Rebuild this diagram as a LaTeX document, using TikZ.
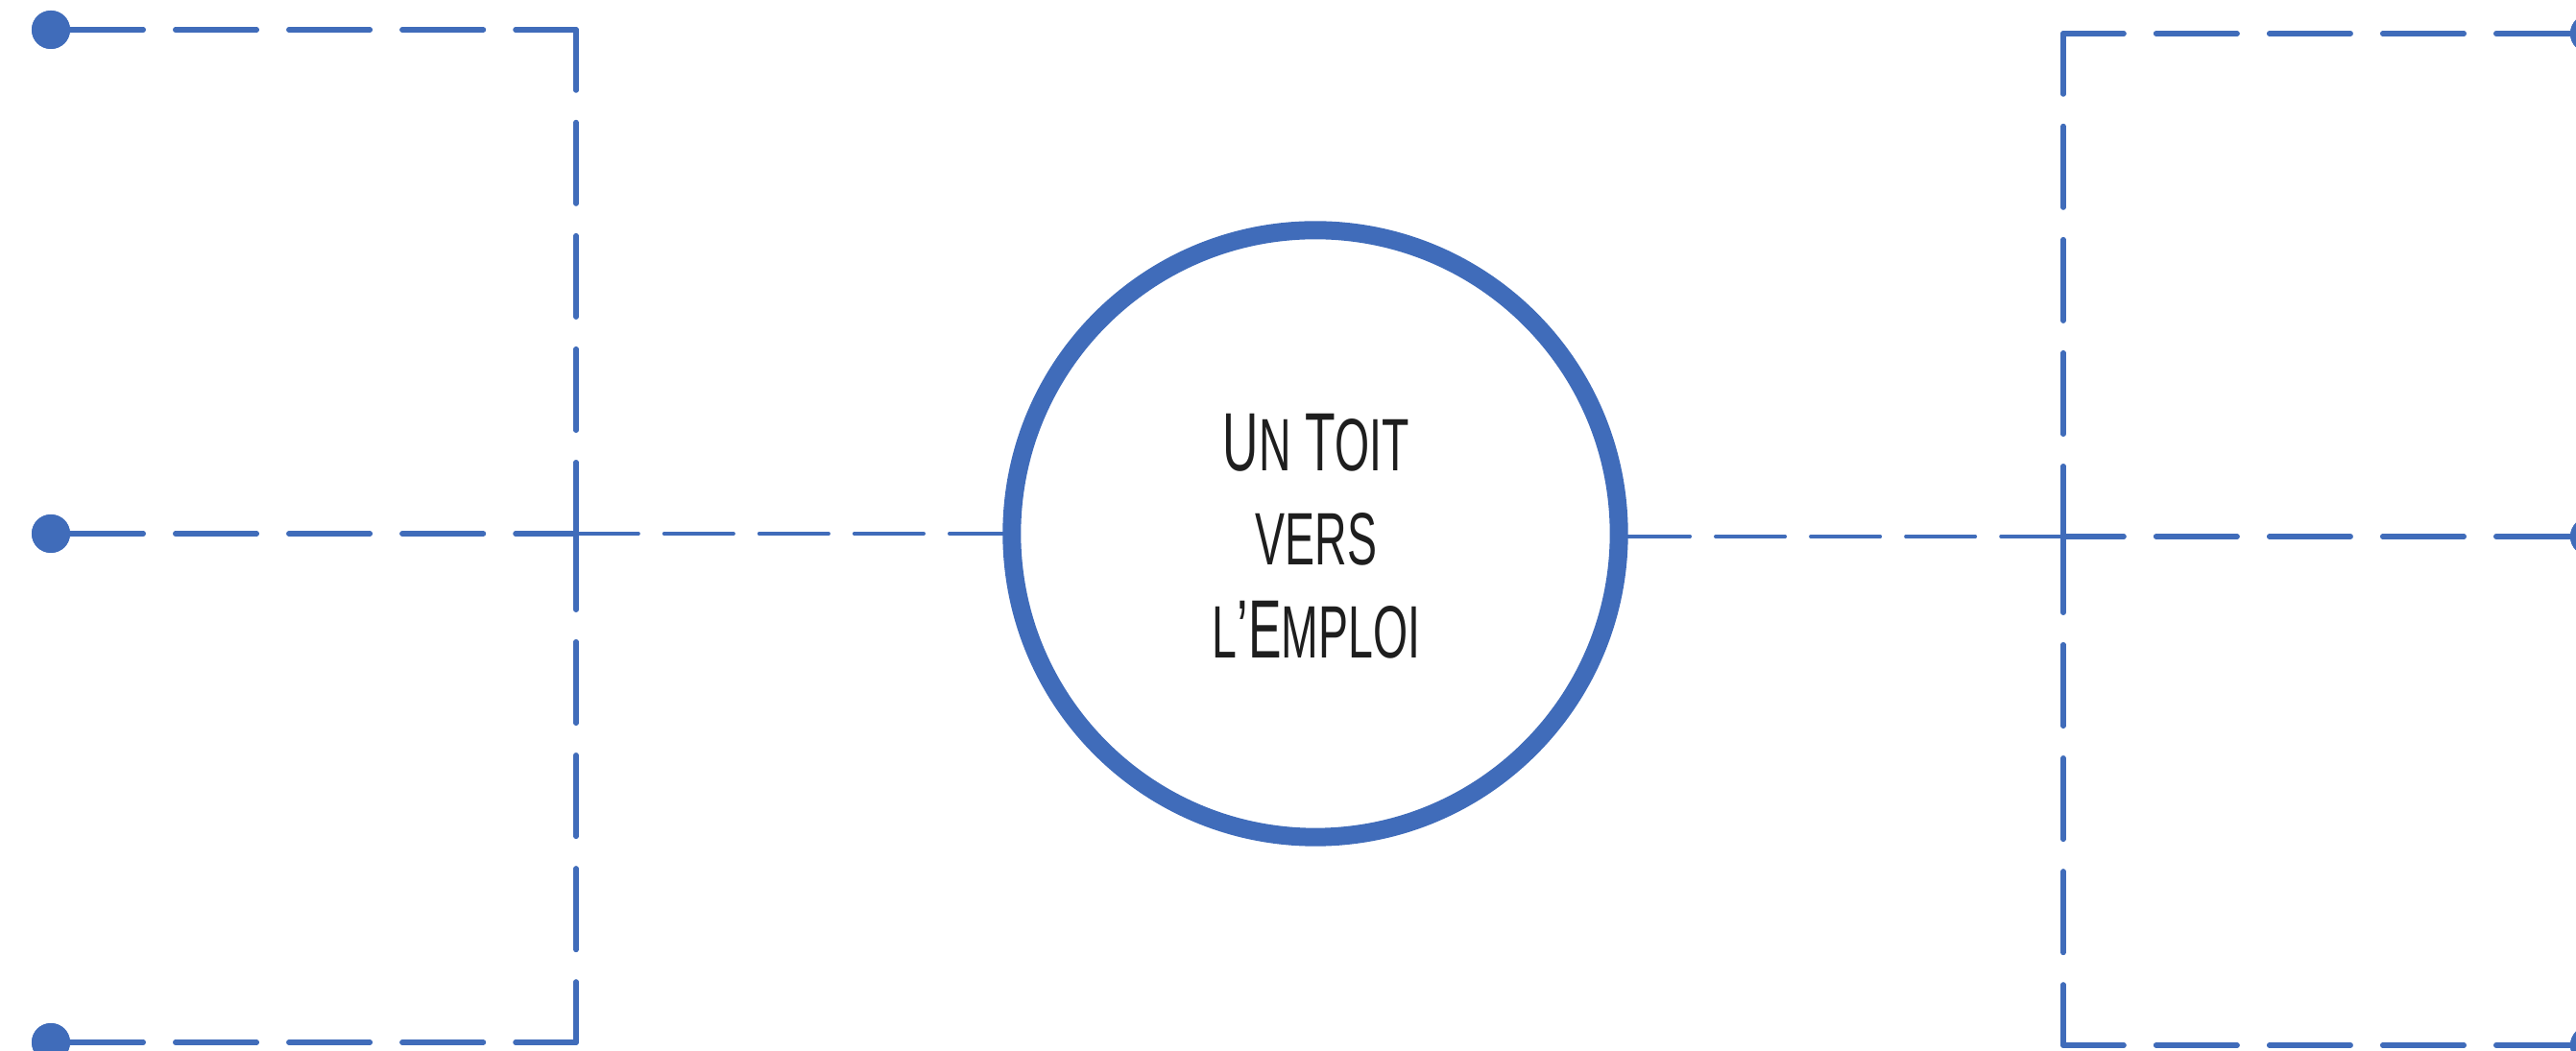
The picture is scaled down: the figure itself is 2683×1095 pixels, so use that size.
\documentclass[tikz,border=0pt]{standalone}
\usepackage{fontspec}
\newfontfamily\titlefont{Liberation Sans}
\newcommand\smc[1]{{\fontsize{22}{27.7}\selectfont #1}}
\definecolor{lineblue}{RGB}{64,108,186}
\definecolor{textcol}{RGB}{30,30,30}
\tikzset{
  dotnode/.style={circle, fill=lineblue, inner sep=0pt, minimum size=0.40cm},
  thickdash/.style={draw=lineblue, line width=0.055cm, line cap=round,
    dash pattern=on 0.845cm off 0.335cm, dash phase=0.215cm},
  thindash/.style={draw=lineblue, line width=0.035cm, line cap=round,
    dash pattern=on 0.725cm off 0.265cm, dash phase=0.075cm},
  hub/.style={circle, draw=lineblue, line width=0.19cm, fill=white,
    minimum size=6.32cm, inner sep=0pt}
}
\begin{document}
\begin{tikzpicture}[x=0.01cm, y=-0.01cm]
\useasboundingbox (0,0) rectangle (2683,1095);
\clip (0,0) rectangle (2683,1095);
% centre
\node[hub] (circ) at (1370,556) {};
\begin{scope}[shift={(1371,559)}, xscale=0.6]
\node[transform shape, align=center, inner sep=0pt, text=textcol,
  font=\titlefont\fontsize{24.5}{27.7}\selectfont] (title) at (0,0)
  {U\smc{N} T\smc{OIT}\\\smc{VERS}\\\smc{L}’E\smc{MPLOI}};
\end{scope}
% end points
\node[dotnode] (dTL) at (53,31) {};
\node[dotnode] (dML) at (53,556) {};
\node[dotnode] (dBL) at (53,1086) {};
\node[dotnode] (dTR) at (2697,35) {};
\node[dotnode] (dMR) at (2697,559) {};
\node[dotnode] (dBR) at (2697,1089) {};
% junctions and corners
\coordinate (cTL) at (600,31);
\coordinate (jL) at (600,556);
\coordinate (cBL) at (600,1086);
\coordinate (cTR) at (2149,35);
\coordinate (jR) at (2149,559);
\coordinate (cBR) at (2149,1089);
% left connectors
\draw[thickdash] (cTL) -- (dTL.center);
\draw[thickdash] (cTL) -- (jL);
\draw[thickdash] (cBL) -- (dBL.center);
\draw[thickdash] (cBL) -- (jL);
\draw[thickdash] (jL) -- (dML.center);
\draw[thindash] (jL) -- (jL -| circ.west);
% right connectors
\draw[thickdash] (cTR) -- (dTR.center);
\draw[thickdash] (cTR) -- (jR);
\draw[thickdash] (cBR) -- (dBR.center);
\draw[thickdash] (cBR) -- (jR);
\draw[thickdash] (jR) -- (dMR.center);
\draw[thindash] (jR) -- (jR -| circ.east);
% dots on top
\foreach \d in {dTL,dML,dBL,dTR,dMR,dBR} {\fill[lineblue] (\d) circle[radius=0.20cm];}
\end{tikzpicture}
\end{document}
